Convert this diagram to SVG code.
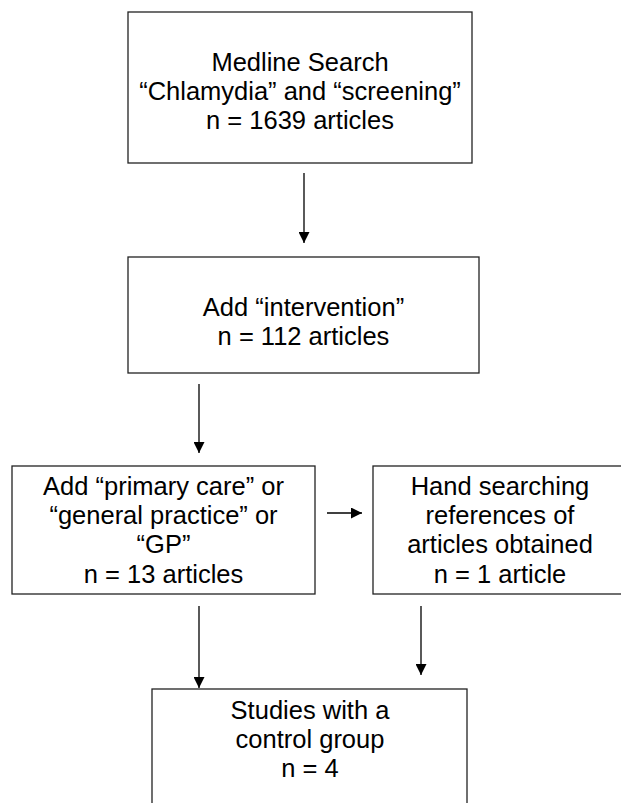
<svg xmlns="http://www.w3.org/2000/svg" width="621" height="803" viewBox="0 0 621 803">
<defs>
<style>
.box{fill:#fff;stroke:#222;stroke-width:1.3}
.t{font-family:"Liberation Sans",Arial,sans-serif;font-size:25.5px;fill:#000;text-anchor:middle}
.c{stroke:#000;stroke-width:1.3;fill:none;marker-end:url(#ah)}
</style>
<marker id="ah" markerUnits="userSpaceOnUse" markerWidth="11" markerHeight="11" refX="10" refY="5" orient="auto" viewBox="0 0 10 10">
<path d="M0,0 L10,5 L0,10 Z" fill="#000"/>
</marker>
</defs>
<rect width="621" height="803" fill="#fff"/>
<g id="connectors">
<line class="c" x1="304" y1="173" x2="304" y2="243"/>
<line class="c" x1="199" y1="384" x2="199" y2="453"/>
<line class="c" x1="327" y1="513" x2="362" y2="513"/>
<line class="c" x1="199" y1="606" x2="199" y2="688"/>
<line class="c" x1="421" y1="606" x2="421" y2="675"/>
</g>
<g id="n1">
<rect class="box" x="128" y="12" width="344" height="151"/>
<text class="t" x="300" y="71">Medline Search</text>
<text class="t" x="300" y="100">“Chlamydia” and “screening”</text>
<text class="t" x="300" y="129">n = 1639 articles</text>
</g>
<g id="n2">
<rect class="box" x="128" y="257" width="351" height="116"/>
<text class="t" x="303.5" y="316">Add “intervention”</text>
<text class="t" x="303.5" y="345">n = 112 articles</text>
</g>
<g id="n3">
<rect class="box" x="12" y="466" width="303" height="128"/>
<text class="t" x="163.5" y="495">Add “primary care” or</text>
<text class="t" x="163.5" y="524">“general practice” or</text>
<text class="t" x="163.5" y="553">“GP”</text>
<text class="t" x="163.5" y="583">n = 13 articles</text>
</g>
<g id="n4">
<rect class="box" x="373" y="466" width="255" height="128"/>
<text class="t" x="500" y="495">Hand searching</text>
<text class="t" x="500" y="524">references of</text>
<text class="t" x="500" y="553">articles obtained</text>
<text class="t" x="500" y="583">n = 1 article</text>
</g>
<g id="n5">
<rect class="box" x="152" y="689" width="315" height="130"/>
<text class="t" x="310" y="719">Studies with a</text>
<text class="t" x="310" y="748">control group</text>
<text class="t" x="310" y="777">n = 4</text>
</g>
</svg>
